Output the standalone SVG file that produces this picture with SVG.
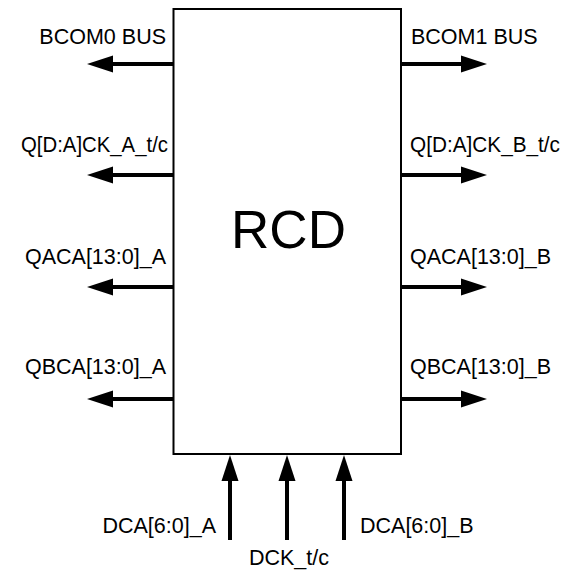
<svg xmlns="http://www.w3.org/2000/svg" width="572" height="571" viewBox="0 0 572 571">
<defs>
<marker id="ah" markerUnits="userSpaceOnUse" markerWidth="26" markerHeight="17" refX="0" refY="8.5" orient="auto" overflow="visible">
<path d="M0,0 L26,8.5 L0,17 Z" fill="#000"/>
</marker>
<style>
.lbl{font-family:"Liberation Sans",Arial,sans-serif;font-size:21.5px;fill:#000}
.l{text-anchor:end}
.c{text-anchor:middle}
.w{stroke:#000;stroke-width:4;fill:none;marker-end:url(#ah)}
.box{fill:#fff;stroke:#000;stroke-width:2}
</style>
</defs>
<rect width="572" height="571" fill="#fff"/>
<g id="rcd">
<rect class="box" x="173.5" y="9" width="227.5" height="445"/>
<text x="288.5" y="248" class="lbl c" style="font-size:53px">RCD</text>
</g>
<g id="connectors">
<line class="w" x1="173" y1="64" x2="113" y2="64"/>
<line class="w" x1="173" y1="175" x2="113" y2="175"/>
<line class="w" x1="173" y1="287" x2="113" y2="287"/>
<line class="w" x1="173" y1="399" x2="113" y2="399"/>
<line class="w" x1="401" y1="64" x2="461" y2="64"/>
<line class="w" x1="401" y1="175" x2="461" y2="175"/>
<line class="w" x1="401" y1="287" x2="461" y2="287"/>
<line class="w" x1="401" y1="399" x2="461" y2="399"/>
<line class="w" x1="230" y1="540" x2="230" y2="481"/>
<line class="w" x1="287" y1="540" x2="287" y2="481"/>
<line class="w" x1="344" y1="540" x2="344" y2="481"/>
</g>
<g id="labels">
<text x="166" y="44" class="lbl l">BCOM0 BUS</text>
<text x="168" y="152" class="lbl l" textLength="147" lengthAdjust="spacingAndGlyphs">Q[D:A]CK_A_t/c</text>
<text x="166" y="264" class="lbl l">QACA[13:0]_A</text>
<text x="166" y="374" class="lbl l">QBCA[13:0]_A</text>
<text x="411" y="44" class="lbl">BCOM1 BUS</text>
<text x="410" y="152" class="lbl" textLength="150" lengthAdjust="spacingAndGlyphs">Q[D:A]CK_B_t/c</text>
<text x="410" y="264" class="lbl">QACA[13:0]_B</text>
<text x="410" y="374" class="lbl">QBCA[13:0]_B</text>
<text x="216" y="533" class="lbl l">DCA[6:0]_A</text>
<text x="289" y="565" class="lbl c">DCK_t/c</text>
<text x="360" y="533" class="lbl">DCA[6:0]_B</text>
</g>
</svg>
